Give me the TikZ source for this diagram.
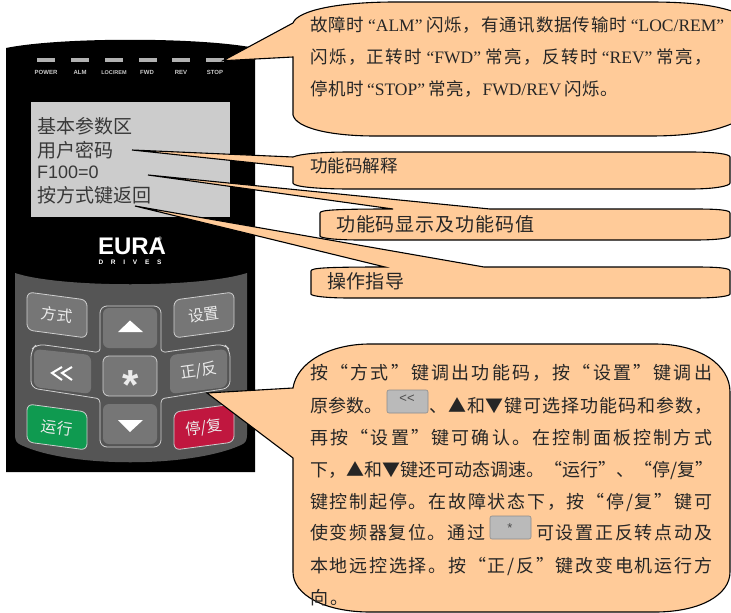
\documentclass[tikz,border=0pt]{standalone}
\usepackage{fontspec}
\setmainfont{Noto Sans CJK SC}
\newfontfamily\lat{Liberation Serif}
\newfontfamily\ari{Liberation Sans}
\makeatletter
\newcommand\spreadline[2]{\hbox to #1pt{\@tfor\@ch:=#2\do{{\@ch}\hfil}\unskip}}
\makeatother
\definecolor{call}{HTML}{FFCB99}
\definecolor{panel}{HTML}{555555}
\definecolor{keyg}{HTML}{767676}
\definecolor{edge}{HTML}{CFCFCF}
\definecolor{runkey}{HTML}{0F9A50}
\definecolor{stopkey}{HTML}{C0173F}
\tikzset{
  x=1pt,y=-1pt,
  callout/.style={draw=black,line width=1.1pt,fill=call,line join=miter},
  keyshape/.style={fill=keyg,draw=edge,line width=0.8pt,rounded corners=6pt},
  keylabel/.style={text=white!92!black,font=\fontsize{15.5}{15.5}\selectfont,inner sep=0pt},
  led/.style={fill=white!70!black},
  ledlabel/.style={text=white!80!black,font=\ari\bfseries\fontsize{6}{6}\selectfont,inner sep=0pt},
  lcdtext/.style={text=black!78,anchor=west,inner sep=0pt,font=\fontsize{19}{19}\selectfont},
  boxtext/.style={text=black!85,anchor=west,inner sep=0pt,font=\fontsize{18}{18}\selectfont},
  toptext/.style={boxtext,font=\fontsize{17.5}{17.5}\selectfont},
  inlinekey/.style={fill=white!73!black,draw=black!45,line width=0.6pt,rounded corners=2pt},
  chev/.style={draw=white,line width=2pt,miter limit=10},
}
\begin{document}
\begin{tikzpicture}
\useasboundingbox (0,0) rectangle (731,613);
\fill[white] (0,0) rectangle (731,613);
% device
\fill[black] (6,48) .. controls (60,37) and (200,37) .. (255,48) -- (255,472) -- (6,472) -- cycle;
\foreach \a in {37,71,105,139,172,206} \fill[led] (\a,58) rectangle ++(17.5,3.8);
\node[ledlabel] (l1) at (46,72.5) {POWER};
\node[ledlabel] (l2) at (80,72.5) {ALM};
\node[ledlabel,font=\ari\bfseries\fontsize{5.5}{5.5}\selectfont] (l3) at (114,72.5) {LOC/REM};
\node[ledlabel] (l4) at (147,72.5) {FWD};
\node[ledlabel] (l5) at (181,72.5) {REV};
\node[ledlabel] (l6) at (215,72.5) {STOP};
% lcd
\fill[white!80!black] (31,102) rectangle (230,217);
\node[lcdtext] (t1) at (37,126) {基本参数区};
\node[lcdtext] (t2) at (37,150) {用户密码};
\node[lcdtext,font=\ari\fontsize{18}{18}\selectfont] (t3) at (37,172) {F100=0};
\node[lcdtext] (t4) at (37,195) {按方式键返回};
% logo
\node[text=white,inner sep=0pt,font=\ari\bfseries\fontsize{24}{24}\selectfont] (logo) at (130,246) {\spreadline{64}{EURA}};
\node[text=white,inner sep=0pt,font=\ari\bfseries\fontsize{5}{5}\selectfont] (reg) at (160,238.5) {®};
\node[text=white,inner sep=0pt,font=\ari\bfseries\fontsize{6.5}{6.5}\selectfont] (drv) at (130,262) {\spreadline{63}{DRIVES}};
% panel
\fill[panel] (15,273) .. controls (60,288) and (200,288) .. (247,273) -- (247,435)
  .. controls (247,441) and (245,443) .. (241,445) .. controls (190,468) and (70,468) .. (21,445)
  .. controls (17,443) and (15,441) .. (15,435) -- cycle;
% outline of the cross
\draw[edge,line width=0.8pt,rounded corners=7pt]
  (100,306) -- (161,306) -- (161,342) .. controls (161,352) and (166,352) .. (172,351)
  -- (224,344) -- (230,350) -- (230,388) -- (172,397) .. controls (166,398) and (161,398) .. (161,410)
  -- (161,447) -- (100,447) -- (100,410) .. controls (100,398) and (95,398) .. (89,397)
  -- (31,388) -- (31,350) -- (37,344) -- (89,351) .. controls (95,352) and (100,352) .. (100,342) -- cycle;
\draw[keyshape] (27,292) -- (87,300) -- (87,338) -- (27,330) -- cycle;
\draw[keyshape] (174,300) -- (234,292) -- (234,330) -- (174,338) -- cycle;
\draw[keyshape,fill=runkey] (27,404) -- (87,412) -- (87,450) -- (27,442) -- cycle;
\draw[keyshape,fill=stopkey] (174,412) -- (234,404) -- (234,442) -- (174,450) -- cycle;
\fill[keyg,rounded corners=6pt] (103,308) rectangle (157,348);
\draw[keyshape] (103,356) rectangle (157,396);
\fill[keyg,rounded corners=6pt] (103,404) rectangle (157,444);
\fill[keyg,rounded corners=6pt] (34,349) -- (91,355) -- (91,394) -- (34,387) -- cycle;
\fill[keyg,rounded corners=6pt] (170,355) -- (227,349) -- (227,387) -- (170,394) -- cycle;
\fill[white] (130,320.5) -- (143,332) -- (118,332) -- cycle;
\fill[white] (130,432) -- (143,420) -- (118,420) -- cycle;
\draw[chev] (62,367) -- (52,373) -- (62,380);
\draw[chev] (72,367) -- (62,373) -- (72,380);
\node[keylabel,rotate=-8] (k1) at (57,315) {方式};
\node[keylabel,rotate=8] (k2) at (204,315) {设置};
\node[keylabel,rotate=-8] (k3) at (57,428) {运行};
\node[keylabel,rotate=8] (k4) at (204,428) {停/复};
\node[keylabel,rotate=8] (k5) at (199,371) {正/反};
\node[keylabel,font=\ari\bfseries\fontsize{42}{42}\selectfont] (k7) at (131,385) {*};
% callouts
\draw[callout] (293,23) .. controls (298,10) and (340,2) .. (395,2) -- (650,2)
  .. controls (695,2) and (720,6) .. (740,14) -- (740,120) .. controls (720,130) and (695,136) .. (650,136)
  -- (375,136) .. controls (330,136) and (296,128) .. (293,115) -- (293,57) -- (223,60.7) -- cycle;
\draw[callout] (293,157) .. controls (300,154) and (320,152) .. (350,152) -- (690,152)
  .. controls (715,152) and (730,154) .. (730,157) -- (730,183) .. controls (730,186) and (715,189) .. (690,189)
  -- (350,189) .. controls (320,189) and (293,187) .. (293,183) -- (293,167) -- (132,150) -- cycle;
\draw[callout] (393,209) -- (148,175) -- (490,209) -- (695,209) .. controls (718,209) and (730,210) .. (730,213)
  -- (730,236) .. controls (730,238) and (718,240) .. (695,240) -- (360,240)
  .. controls (335,240) and (320,238) .. (320,236) -- (320,213) .. controls (320,210) and (335,209) .. (393,209) -- cycle;
\draw[callout] (385,267) -- (135,206) -- (484,267) -- (695,267) .. controls (718,267) and (730,268) .. (730,271)
  -- (730,294) .. controls (730,296) and (718,298) .. (695,298) -- (350,298)
  .. controls (325,298) and (311,296) .. (311,294) -- (311,271) .. controls (311,268) and (325,267) .. (385,267) -- cycle;
\draw[callout] (293,388) .. controls (297,362) and (330,344) .. (370,344) -- (655,344)
  .. controls (700,344) and (730,365) .. (730,392) -- (730,572) .. controls (730,595) and (700,612) .. (655,612)
  -- (370,612) .. controls (325,612) and (293,595) .. (293,572) -- (293,458) -- (207,393) -- cycle;
% text of the callouts
\node[toptext] (a1) at (310,25) {\spreadline{414}{故障时{\lat\,“ALM”\,}闪烁，有通讯数据传输时{\lat\,“LOC/REM”}}};
\node[toptext] (a2) at (310,57) {\spreadline{402}{闪烁，正转时{\lat\,“FWD”\,}常亮，反转时{\lat\,“REV”\,}常亮，}};
\node[toptext] (a3) at (310,89) {\spreadline{308}{停机时{\lat\,“STOP”\,}常亮，{\lat FWD/REV\,}闪烁。}};
\node[toptext] (b) at (310,166) {\spreadline{87}{功能码解释}};
\node[boxtext,font=\fontsize{19}{19}\selectfont] (c) at (336,224) {\spreadline{198}{功能码显示及功能码值}};
\node[boxtext,font=\fontsize{19}{19}\selectfont] (d) at (327,281) {\spreadline{77}{操作指导}};
\node[boxtext] (e1) at (310,373) {\spreadline{402}{按“方式”键调出功能码，按“设置”键调出}};
\node[boxtext] (e2a) at (310,406) {\spreadline{72}{原参数。}};
\draw[inlinekey] (387,390) rectangle (428,413);
\node[inner sep=0pt,text=black!70,font=\ari\fontsize{13}{13}\selectfont] (ik1) at (407,399) {<<};
\node[boxtext] (e2b) at (429,406) {\spreadline{283}{、▲和▼键可选择功能码和参数，}};
\node[boxtext] (e3) at (310,438) {\spreadline{402}{再按“设置”键可确认。在控制面板控制方式}};
\node[boxtext] (e4) at (310,470) {\spreadline{402}{下，▲和▼键还可动态调速。“运行”、“停/复”}};
\node[boxtext] (e5) at (310,502) {\spreadline{402}{键控制起停。在故障状态下，按“停/复”键可}};
\node[boxtext] (e6a) at (310,533) {\spreadline{175}{使变频器复位。通过}};
\draw[inlinekey] (490,516) rectangle (531,539);
\node[inner sep=0pt,text=black!70,font=\ari\fontsize{13}{13}\selectfont] (ik2) at (510,528) {*};
\node[boxtext] (e6b) at (536,533) {\spreadline{176}{可设置正反转点动及}};
\node[boxtext] (e7) at (310,566) {\spreadline{402}{本地远控选择。按“正/反”键改变电机运行方}};
\node[boxtext] (e8) at (310,598) {\spreadline{38}{向。}};
\end{tikzpicture}
\end{document}
